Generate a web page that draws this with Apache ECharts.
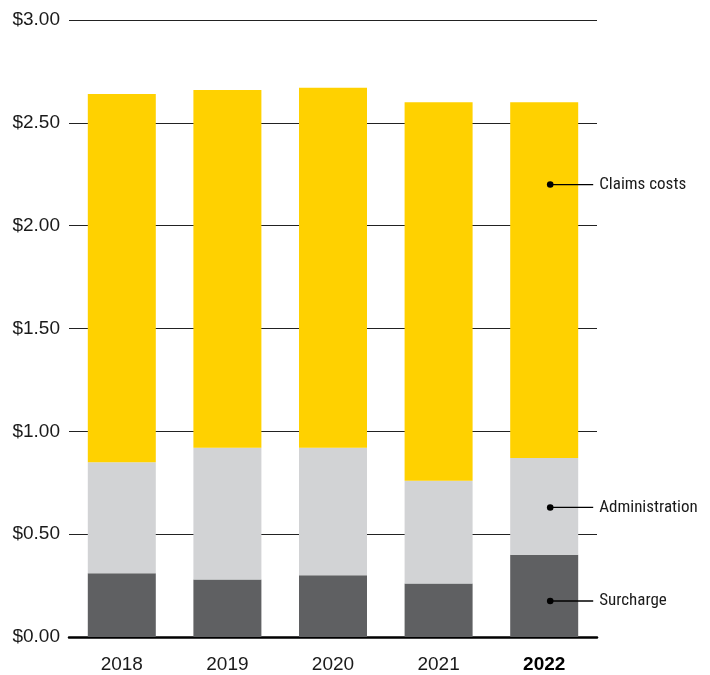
<!DOCTYPE html>
<html>
<head>
<meta charset="utf-8">
<script src="https://cdn.jsdelivr.net/npm/echarts@6/dist/echarts.min.js"></script>
<style>
  html, body { margin: 0; padding: 0; background: #fff; }
  #chart { width: 710px; height: 675px; }
</style>
</head>
<body>
<div id="chart"></div>
<script>
// Cost per $100 of payroll, split into its three components
const years = ['2018', '2019', '2020', '2021', '2022'];
const surcharge = [0.31, 0.28, 0.30, 0.26, 0.40];
const administration = [0.54, 0.64, 0.62, 0.50, 0.47];
const claimsCosts = [1.79, 1.74, 1.75, 1.84, 1.73];
const yTicks = [0, 0.5, 1, 1.5, 2, 2.5, 3];

// Callout labels on the latest bar: name and value level of each pointer dot
const calloutNames = ['Claims costs', 'Administration', 'Surcharge'];
const calloutLevels = [2.2, 0.63, 0.175];

const COLORS = { claims: '#FFD100', admin: '#D2D3D5', surcharge: '#5F6062' };
const LABEL_FONT = 'Liberation Sans, Arial, sans-serif';
const NOTE_FONT = '"Liberation Sans Narrow", "Arial Narrow", "Roboto Condensed", sans-serif';

const chart = echarts.init(document.getElementById('chart'), null, { renderer: 'canvas' });

const barCommon = { type: 'bar', stack: 'total', barWidth: 68, silent: true };

chart.setOption({
  animation: false,
  grid: { left: 69, right: 113, top: 20, bottom: 38 },
  xAxis: {
    type: 'category',
    data: years,
    axisTick: { show: false },
    axisLine: { show: true, lineStyle: { color: '#000', width: 2.5 } },
    axisLabel: {
      margin: 18,
      fontSize: 19,
      fontFamily: LABEL_FONT,
      color: '#1a1a1a',
      formatter: (v) => v === years[years.length - 1] ? '{b|' + v + '}' : v,
      rich: { b: { fontWeight: 'bold', fontSize: 19, fontFamily: LABEL_FONT, color: '#000' } }
    }
  },
  yAxis: {
    type: 'value',
    min: yTicks[0],
    max: yTicks[yTicks.length - 1],
    interval: 0.5,
    axisLine: { show: false },
    axisTick: { show: false },
    splitLine: { show: true, lineStyle: { color: '#222', width: 1 } },
    axisLabel: {
      margin: 9,
      fontSize: 19,
      fontFamily: LABEL_FONT,
      color: '#1a1a1a',
      formatter: (v) => '$' + v.toFixed(2)
    }
  },
  series: [
    Object.assign({ name: 'Surcharge', data: surcharge, itemStyle: { color: COLORS.surcharge } }, barCommon),
    Object.assign({ name: 'Administration', data: administration, itemStyle: { color: COLORS.admin } }, barCommon),
    Object.assign({ name: 'Claims costs', data: claimsCosts, itemStyle: { color: COLORS.claims } }, barCommon)
  ]
});

// Pointer callouts: dot inside the last bar, a short leader line, then the label
const lastYear = years[years.length - 1];
const elements = [];
calloutNames.forEach((name, i) => {
  const p = chart.convertToPixel({ gridIndex: 0 }, [lastYear, calloutLevels[i]]);
  const x = p[0] + 6;
  const y = p[1];
  elements.push({
    type: 'line', silent: true, z: 100,
    shape: { x1: x, y1: y, x2: x + 43, y2: y },
    style: { stroke: '#000', lineWidth: 1.3 }
  });
  elements.push({
    type: 'circle', silent: true, z: 101,
    shape: { cx: x, cy: y, r: 3.3 },
    style: { fill: '#000' }
  });
  elements.push({
    type: 'text', silent: true, z: 100,
    x: x + 49, y: y,
    style: {
      text: name, fill: '#1a1a1a', fontSize: 17, fontFamily: NOTE_FONT,
      verticalAlign: 'middle', align: 'left'
    }
  });
});
chart.setOption({ graphic: { elements: elements } });
</script>
</body>
</html>
